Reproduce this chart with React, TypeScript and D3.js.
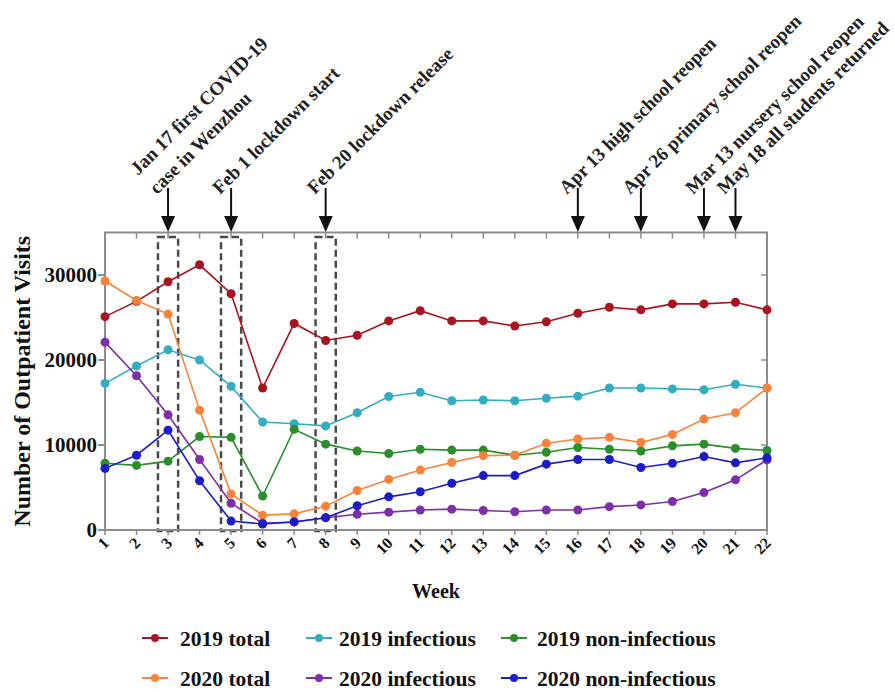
import React from 'react';
import * as d3 from 'd3';

// weeks on the x axis
const weeks = [1, 2, 3, 4, 5, 6, 7, 8, 9, 10, 11, 12, 13, 14, 15, 16, 17, 18, 19, 20, 21, 22];
const yTicks = [0, 10000, 20000, 30000];

// weekly outpatient visits
const total2019 = [25100, 26900, 29200, 31200, 27800, 16700, 24300, 22300, 22900, 24600, 25800, 24600, 24600, 24000, 24500, 25500, 26200, 25900, 26600, 26600, 26800, 25900];
const infectious2019 = [17250, 19300, 21200, 20000, 16900, 12700, 12500, 12250, 13800, 15700, 16200, 15200, 15300, 15200, 15500, 15750, 16700, 16700, 16600, 16500, 17150, 16700];
const nonInfectious2019 = [7850, 7600, 8100, 11000, 10900, 4000, 11850, 10100, 9300, 9000, 9500, 9400, 9400, 8800, 9150, 9700, 9500, 9300, 9900, 10100, 9600, 9350];
const total2020 = [29300, 27000, 25400, 14100, 4250, 1750, 1900, 2800, 4650, 5950, 7050, 7950, 8750, 8800, 10200, 10700, 10900, 10300, 11250, 13050, 13800, 16700];
const infectious2020 = [22100, 18150, 13550, 8300, 3150, 800, 950, 1450, 1850, 2100, 2350, 2450, 2300, 2150, 2350, 2350, 2750, 2950, 3350, 4400, 5900, 8250];
const nonInfectious2020 = [7250, 8800, 11750, 5800, 1050, 700, 950, 1450, 2850, 3900, 4500, 5500, 6400, 6400, 7750, 8300, 8300, 7350, 7850, 8650, 7900, 8500];

const seriesNames = ['2019 total', '2019 infectious', '2019 non-infectious', '2020 total', '2020 infectious', '2020 non-infectious'];
const seriesColors = ['#a8141f', '#33adc2', '#2a8f2a', '#f7843a', '#7d2ea8', '#1c1cc8'];
const seriesValues = [total2019, infectious2019, nonInfectious2019, total2020, infectious2020, nonInfectious2020];

// event annotations (week the arrow points at)
const eventWeeks = [3, 5, 8, 16, 18, 20, 21];
const eventLabels = [
  ['Jan 17 first COVID-19', 'case in Wenzhou'],
  ['Feb 1 lockdown start'],
  ['Feb 20 lockdown release'],
  ['Apr 13 high school reopen'],
  ['Apr 26 primary school reopen'],
  ['Mar 13 nursery school reopen'],
  ['May 18 all students returned'],
];
// dashed highlight boxes
const boxWeeks = [3, 5, 8];

const FONT = '"Liberation Serif", "Times New Roman", serif';

export default function App() {
  const left = 105, right = 767, top = 232.5, bottom = 530;

  const x = d3.scaleLinear().domain([1, 22]).range([left, right]);
  const y = d3.scaleLinear().domain([0, 35000]).range([bottom, top]);

  const line = d3.line<number>()
    .x((d, i) => x(weeks[i]))
    .y(d => y(d));

  const axisColor = '#8c8c8c';

  // legend layout
  const legCols = [155, 319, 514];
  const legText = [180, 339, 537];
  const legRows = [638, 678];

  return (
    <svg width={895} height={692} style={{ position: 'absolute', left: 0, top: 0, background: '#fff' }}
      fontFamily={FONT} fontWeight="bold">
      {/* dashed boxes */}
      {boxWeeks.map(w => (
        <rect key={'b' + w} x={x(w - 0.32)} y={237} width={x(w + 0.32) - x(w - 0.32)} height={bottom + 1 - 237}
          fill="none" stroke="#4a4a4a" strokeWidth={2.5} strokeDasharray="7,4" />
      ))}

      {/* frame */}
      <rect x={left} y={top} width={right - left} height={bottom - top} fill="none" stroke={axisColor} strokeWidth={2} />

      {/* top and bottom ticks */}
      {weeks.map(w => (
        <g key={'t' + w}>
          <line x1={x(w)} x2={x(w)} y1={top} y2={top + 6} stroke={axisColor} strokeWidth={1.5} />
          <line x1={x(w)} x2={x(w)} y1={bottom} y2={bottom + 5} stroke={axisColor} strokeWidth={1.5} />
          <text transform={`translate(${x(w) + 5},${bottom + 14}) rotate(-45)`} textAnchor="end" fontSize={16}
            fill="#111">{w}</text>
        </g>
      ))}

      {/* y ticks */}
      {yTicks.map(t => (
        <g key={'y' + t}>
          <line x1={left - 7} x2={left} y1={y(t)} y2={y(t)} stroke={axisColor} strokeWidth={2} />
          <line x1={right - 6} x2={right} y1={y(t)} y2={y(t)} stroke={axisColor} strokeWidth={1.5} />
          <text x={left - 8} y={y(t)} dy="0.35em" textAnchor="end" fontSize={21} fill="#111">{t}</text>
        </g>
      ))}

      {/* series */}
      {seriesValues.map((vals, si) => (
        <g key={'s' + si}>
          <path d={line(vals) || ''} fill="none" stroke={seriesColors[si]} strokeWidth={1.6} />
          {vals.map((v, i) => (
            <circle key={i} cx={x(weeks[i])} cy={y(v)} r={4.5} fill={seriesColors[si]} />
          ))}
        </g>
      ))}

      {/* annotations */}
      {eventWeeks.map((w, i) => {
        const ax = x(w);
        const lines = eventLabels[i];
        return (
          <g key={'e' + w}>
            <line x1={ax} x2={ax} y1={188} y2={218} stroke="#111" strokeWidth={2} />
            <path d={`M${ax - 7},216 L${ax + 7},216 L${ax},232 Z`} fill="#111" />
            <text transform={`translate(${ax - 11},195) rotate(-45)`} fontSize={19} fill="#222">
              {lines.map((s, j) => (
                <tspan key={j} x={0} y={(j - lines.length + 1) * 27}>{s}</tspan>
              ))}
            </text>
          </g>
        );
      })}

      {/* axis titles */}
      <text transform={`translate(30,${(top + bottom) / 2}) rotate(-90)`} textAnchor="middle" fontSize={24}
        fill="#111">Number of Outpatient Visits</text>
      <text x={(left + right) / 2} y={598} textAnchor="middle" fontSize={20} fill="#111">Week</text>

      {/* legend */}
      {seriesNames.map((name, i) => {
        const c = i % 3, r = Math.floor(i / 3);
        const cx = legCols[c], cy = legRows[r];
        return (
          <g key={'l' + i}>
            <line x1={cx - 13} x2={cx + 13} y1={cy} y2={cy} stroke={seriesColors[i]} strokeWidth={2} />
            <circle cx={cx} cy={cy} r={4} fill={seriesColors[i]} />
            <text x={legText[c]} y={cy} dy="0.35em" fontSize={21.5} fill="#111">{name}</text>
          </g>
        );
      })}
    </svg>
  );
}
